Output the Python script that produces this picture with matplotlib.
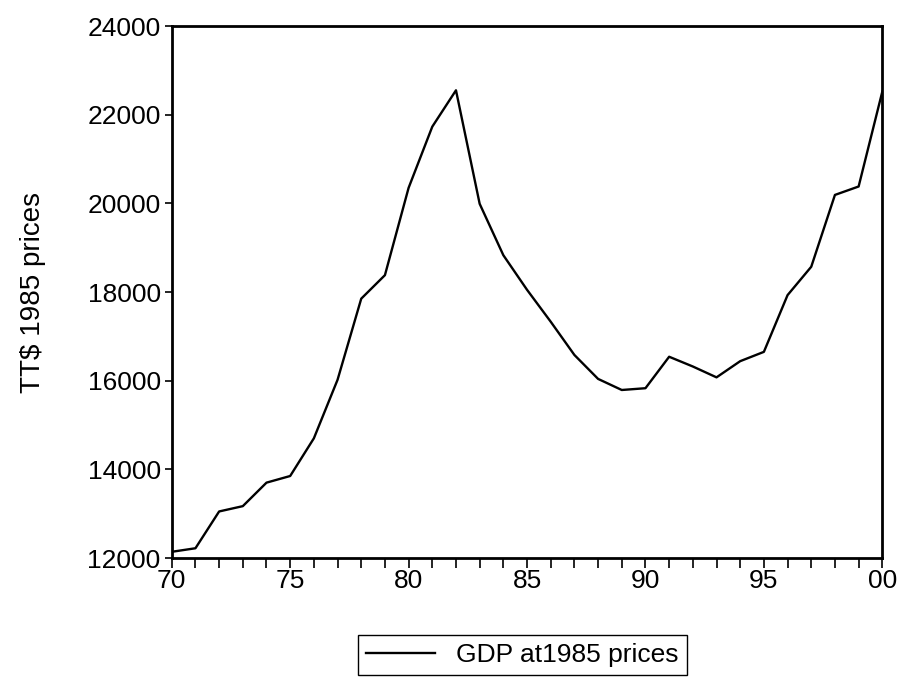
import matplotlib
matplotlib.use("Agg")
import matplotlib.pyplot as plt
from matplotlib.ticker import MultipleLocator, FixedLocator

# --- data (annual, TT$ at 1985 prices) ---
years = list(range(1970, 2001))
gdp = [12140, 12220, 13050, 13170, 13700, 13850, 14700, 16020, 17850, 18380,
       20350, 21730, 22550, 19990, 18830, 18050, 17330, 16580, 16040, 15790,
       15830, 16540, 16320, 16075, 16440, 16650, 17930, 18570, 20190, 20380,
       22520]
tick_years = [1970, 1975, 1980, 1985, 1990, 1995, 2000]
tick_labels = ["70", "75", "80", "85", "90", "95", "00"]

plt.rcParams['font.family'] = ['Liberation Sans', 'DejaVu Sans']

fig = plt.figure(figsize=(9.04, 6.81), dpi=100)
ax = fig.add_axes([0.190, 0.1806, 0.786, 0.7812])

line, = ax.plot(years, gdp, color='black', linewidth=1.7, label='GDP at1985 prices')

ax.set_xlim(1970, 2000)
ax.set_ylim(12000, 24000)
ax.xaxis.set_major_locator(FixedLocator(tick_years))
ax.set_xticklabels(tick_labels)
ax.xaxis.set_minor_locator(MultipleLocator(1))
ax.yaxis.set_major_locator(MultipleLocator(2000))

ax.tick_params(axis='both', which='major', labelsize=19, direction='out',
               length=7, width=1.2, colors='black')
ax.tick_params(axis='x', which='minor', direction='out', length=7, width=1.2)
ax.tick_params(axis='y', which='major', length=5, pad=3)
ax.tick_params(axis='x', which='major', pad=1)

for sp in ax.spines.values():
    sp.set_linewidth(2.0)
    sp.set_color('black')

ax.set_ylabel("TT$ 1985 prices", fontsize=20, labelpad=30)

fig.legend(handles=[line], loc='center', bbox_to_anchor=(0.578, 0.038),
           fontsize=19, frameon=True, fancybox=False, edgecolor='black',
           framealpha=1, handlelength=2.6, borderpad=0.3, handletextpad=0.8)

fig.savefig("out.png", dpi=100)
